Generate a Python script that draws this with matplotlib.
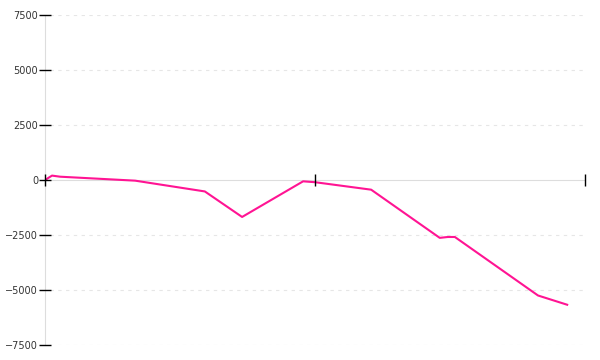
import numpy as np
import matplotlib
matplotlib.use("Agg")
import matplotlib.pyplot as plt

# x positions as percent of the axis span (ticks at 0, 50, 100)
x_vals = [0, 1.3, 2.8, 16.7, 29.6, 36.5, 47.8, 50.0, 60.4, 73.1, 74.6, 75.9, 91.3, 96.7]
y_vals = [0, 200, 150, -30, -520, -1680, -60, -100, -440, -2630, -2590, -2590, -5250, -5670]
y_ticks = [-7500, -5000, -2500, 0, 2500, 5000, 7500]
x_ticks = [0, 50, 100]

fig = plt.figure(figsize=(6, 3.6), dpi=100)
ax = fig.add_axes([45/600, 15/360, 540/600, 330/360])

#Dashed grid lines away from zero
for v in y_ticks:
    if v != 0:
        ax.axhline(v, xmin=0.01, color="#e6e6e6", lw=0.8, ls=(0, (3, 4)), zorder=0)

ax.plot(x_vals, y_vals, color="#ff1493", lw=1.5, zorder=3)

ax.set_xlim(0, 100)
ax.set_ylim(-7500, 7500)

ax.spines["top"].set_visible(False)
ax.spines["right"].set_visible(False)
ax.spines["left"].set_color("#dddddd")
ax.spines["left"].set_zorder(1)
ax.spines["bottom"].set_position(("data", 0))
ax.spines["bottom"].set_color("#dddddd")
ax.spines["bottom"].set_zorder(1)

ax.set_yticks(y_ticks)
ax.set_yticklabels([str(v).replace("-", "\u2212") for v in y_ticks])
ax.tick_params(axis="y", direction="inout", length=8, width=1, color="black",
               labelsize=7, labelcolor="#333333", pad=1)
ax.set_xticks(x_ticks)
ax.set_xticklabels([])
ax.tick_params(axis="x", direction="inout", length=8, width=1, color="black")
ax.xaxis.set_zorder(5)
ax.yaxis.set_zorder(5)
for t in ax.xaxis.get_major_ticks():
    t.tick1line.set_clip_on(False)

fig.savefig("out.png", dpi=100)
